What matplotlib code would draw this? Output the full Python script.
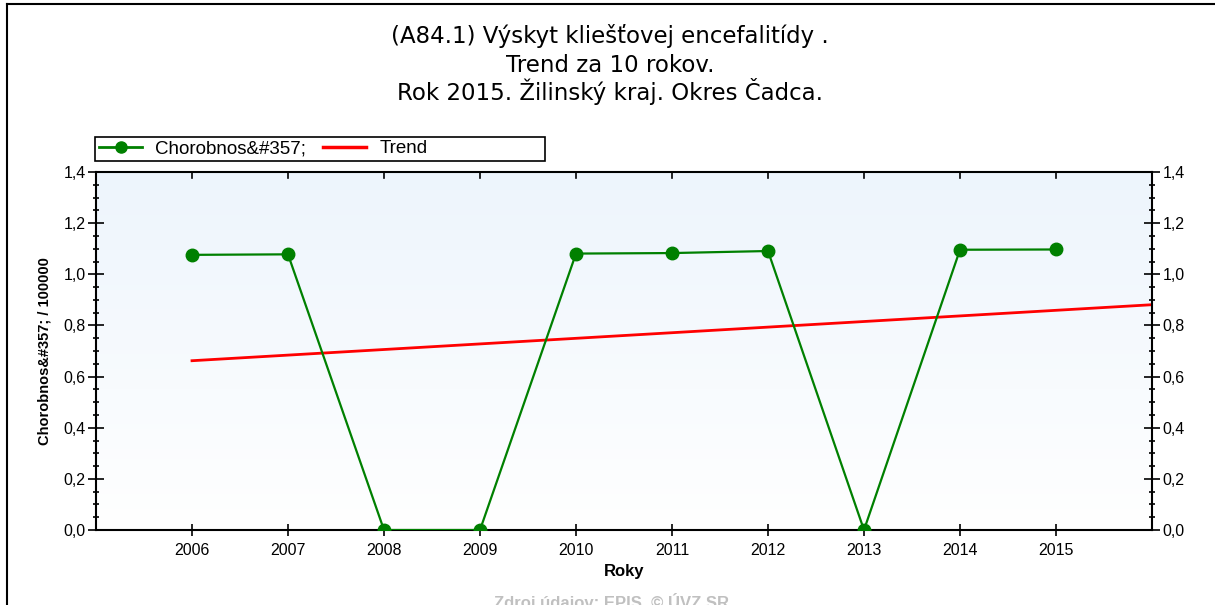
import numpy as np
import matplotlib
matplotlib.use("Agg")
import matplotlib.pyplot as plt
from matplotlib.ticker import MultipleLocator, FuncFormatter
from matplotlib.lines import Line2D
from matplotlib.patches import Rectangle

plt.rcParams['font.family'] = ['Liberation Sans', 'DejaVu Sans']

# ---- data ----
years = [2006, 2007, 2008, 2009, 2010, 2011, 2012, 2013, 2014, 2015]
morbidity = [1.076, 1.078, 0.0, 0.0, 1.081, 1.083, 1.091, 0.0, 1.096, 1.097]
trend_years = [2006, 2016]
trend_values = [0.662, 0.881]
title_lines = ["(A84.1) Výskyt kliešťovej encefalitídy .",
               "Trend za 10 rokov.",
               "Rok 2015. Žilinský kraj. Okres Čadca."]
series_label = "Chorobnos&#357;"
trend_label = "Trend"
y_label = "Chorobnos&#357; / 100000"
x_label = "Roky"
footer = "Zdroj údajov: EPIS. © ÚVZ SR"

W, H = 1215, 605
fig = plt.figure(figsize=(W / 100, H / 100), dpi=100)
fig.patch.set_facecolor('white')

def fx(px):
    return px / W

def fy(py):
    return 1 - py / H

ax = fig.add_axes([fx(96), fy(530), fx(1152) - fx(96), fy(172) - fy(530)])

# gradient background
grad = np.linspace(0, 1, 256).reshape(-1, 1)
top = np.array([0.93, 0.96, 0.99])
bot = np.array([1.0, 1.0, 1.0])
img = bot[None, None, :] * (1 - grad[:, :, None]) + top[None, None, :] * grad[:, :, None]
ax.imshow(img, extent=[0, 1, 0, 1], transform=ax.transAxes, origin='lower',
          aspect='auto', zorder=0)

ax.plot(trend_years, trend_values, color='#ff0000', lw=2.0, zorder=2)
ax.plot(years, morbidity, color='#008000', lw=1.6, marker='o', markersize=9,
        markerfacecolor='#008000', markeredgecolor='#008000', zorder=3)

ax.set_xlim(2005, 2016)
ax.set_ylim(0, 1.4)
ax.set_xticks(years)
ax.xaxis.set_major_formatter(FuncFormatter(lambda v, p: f"{int(round(v))}"))
ax.yaxis.set_major_locator(MultipleLocator(0.2))
ax.yaxis.set_minor_locator(MultipleLocator(0.05))
ax.yaxis.set_major_formatter(FuncFormatter(lambda v, p: f"{v:.1f}".replace('.', ',')))

ax.tick_params(axis='y', which='major', direction='inout', length=11, width=1.2,
               left=True, right=True, labelleft=True, labelright=True,
               labelsize=11.5, pad=2, colors='black')
ax.tick_params(axis='y', which='minor', direction='inout', length=4.5, width=1.2,
               left=True, right=True)
ax.tick_params(axis='x', which='major', direction='inout', length=9, width=1.2,
               bottom=True, top=False, labelsize=11.5, pad=5)
for x in years:
    ax.plot([x, x], [1.4, 1.4 - 0.022], color='black', lw=1.2, zorder=4, clip_on=False)

for s in ax.spines.values():
    s.set_linewidth(1.5)
    s.set_color('black')

ax.set_xlabel(x_label, fontsize=12, fontweight='bold', labelpad=4)
fig.text(fx(45), fy(351), y_label, rotation=90, ha='center', va='center',
         fontsize=10.5, fontweight='bold')

# legend
handles = [Line2D([], [], color='#008000', lw=2, marker='o', markersize=8),
           Line2D([], [], color='#ff0000', lw=2.5)]
leg = fig.legend(handles, [series_label, trend_label], loc='center left',
                 bbox_to_anchor=(fx(99), fy(148.5)), ncol=2, frameon=False,
                 fontsize=13.5, handlelength=2.3, columnspacing=0.9,
                 handletextpad=0.7, borderaxespad=0, borderpad=0.0)
fig.add_artist(Rectangle((fx(95), fy(161)), fx(545) - fx(95), fy(137) - fy(161),
                         transform=fig.transFigure, fill=False, edgecolor='black',
                         lw=1.2))

# title
title_baselines = [43, 71.5, 100]
for t, b in zip(title_lines, title_baselines):
    fig.text(0.502, fy(b), t, ha='center', va='baseline', fontsize=16.5,
             family=['DejaVu Sans'])

# footer
fig.text(fx(612), fy(593), footer, ha='center', va='top', fontsize=12,
         fontweight='bold', color='#c0c0c0')

# figure border (top and left)
fig.add_artist(Line2D([fx(7), 1], [fy(4), fy(4)], transform=fig.transFigure,
                      color='black', lw=1.5))
fig.add_artist(Line2D([fx(7), fx(7)], [fy(4), 0], transform=fig.transFigure,
                      color='black', lw=1.5))

fig.savefig("out.png", dpi=100, facecolor='white')
